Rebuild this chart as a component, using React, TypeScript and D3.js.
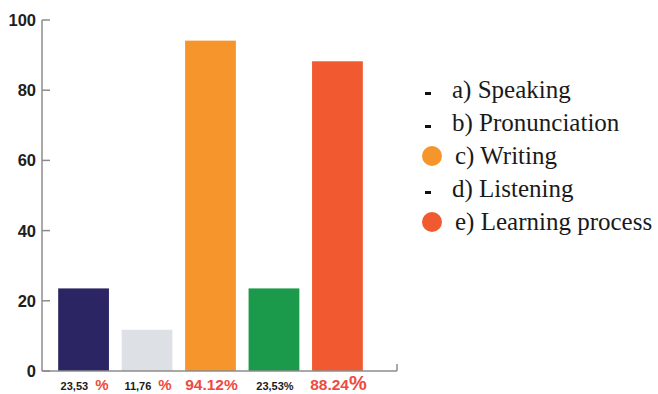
import React from "react";
import * as d3 from "d3";

// Skill areas and their share of responses (%)
const categories = ["a", "b", "c", "d", "e"];
const values = [23.53, 11.76, 94.12, 23.53, 88.24];
const barColors = ["#2b2663", "#dde0e4", "#f6952b", "#1b9a4b", "#f15a31"];

// Labels printed under each bar: number part and percent sign
const valueLabels = ["23,53", "11,76", "94.12", "23,53", "88.24"];
const percentSigns = [" %", " %", "%", "%", "%"];
const emphasised = [false, false, true, false, true];

// Legend entries
const legendLabels = [
  "a) Speaking",
  "b) Pronunciation",
  "c) Writing",
  "d) Listening",
  "e) Learning process",
];
const legendMarks = ["dash", "dash", "dot", "dash", "dot"];
const legendColors = ["#111", "#111", "#f6952b", "#111", "#f15a31"];

const W = 658;
const H = 394;

export default function App() {
  const y = d3.scaleLinear().domain([0, 100]).range([371, 20]);
  const x = d3
    .scaleBand<string>()
    .domain(categories)
    .range([55, 366])
    .paddingInner(0.2)
    .paddingOuter(0.05);
  const legendY = d3
    .scalePoint<string>()
    .domain(legendLabels)
    .range([98, 230]);

  const axisColor = "#8c8c8c";
  const red = "#ee4a3e";
  const sans = '"Liberation Sans"';
  const serif = '"Liberation Serif"';
  const axisLeft = 42;
  const axisRight = 397;

  return (
    <svg
      width={W}
      height={H}
      style={{ position: "absolute", left: 0, top: 0, background: "#fff" }}
    >
      {/* bars */}
      {categories.map((c, i) => (
        <rect
          key={c}
          x={x(c)}
          y={y(values[i])}
          width={x.bandwidth()}
          height={y(0) - y(values[i])}
          fill={barColors[i]}
        />
      ))}

      {/* y axis */}
      <line
        x1={axisLeft}
        x2={axisLeft}
        y1={y(100)}
        y2={y(0)}
        stroke={axisColor}
        strokeWidth={1.5}
      />
      {y.ticks(5).map((t) => (
        <g key={t} transform={`translate(0,${y(t)})`}>
          <line x1={axisLeft} x2={axisLeft + 8} stroke={axisColor} strokeWidth={1.5} />
          <text
            x={36}
            dy="0.36em"
            textAnchor="end"
            style={{ fontFamily: sans, fontWeight: 700, fontSize: 16.5 }}
            fill="#1e1e1e"
          >
            {t}
          </text>
        </g>
      ))}

      {/* x axis */}
      <line
        x1={axisLeft}
        x2={axisRight}
        y1={y(0)}
        y2={y(0)}
        stroke={axisColor}
        strokeWidth={1.5}
      />
      <line
        x1={axisRight}
        x2={axisRight}
        y1={y(0)}
        y2={y(0) - 7}
        stroke={axisColor}
        strokeWidth={1.5}
      />

      {/* value labels under the bars */}
      {categories.map((c, i) => {
        const cx = (x(c) ?? 0) + x.bandwidth() / 2 + 1;
        const big = emphasised[i];
        const spaced = percentSigns[i].length > 1;
        return (
          <text
            key={c}
            x={cx}
            y={390}
            textAnchor="middle"
            style={{ fontFamily: sans }}
          >
            <tspan
              fontSize={big ? 15.5 : 11}
              fontWeight={big ? 600 : 700}
              fill={big ? red : "#1a1a1a"}
            >
              {valueLabels[i]}
            </tspan>
            <tspan
              dx={spaced ? 7 : 0}
              fontSize={big ? (i === 4 ? 20 : 15.5) : spaced ? 15 : 11}
              fontWeight={big || spaced ? 600 : 700}
              fill={big || spaced ? red : "#1a1a1a"}
            >
              {percentSigns[i].trim()}
            </tspan>
          </text>
        );
      })}

      {/* legend */}
      {legendLabels.map((label, i) => {
        const by = legendY(label) ?? 0;
        const dot = legendMarks[i] === "dot";
        return (
          <g key={label}>
            {dot ? (
              <circle cx={432} cy={by - 8} r={10} fill={legendColors[i]} />
            ) : (
              <rect x={425} y={by - 6} width={6} height={3} fill={legendColors[i]} />
            )}
            <text
              x={dot ? 455 : 452}
              y={by}
              fontSize={25}
              style={{ fontFamily: serif }}
              fill="#1a1a1a"
            >
              {label}
            </text>
          </g>
        );
      })}
    </svg>
  );
}
